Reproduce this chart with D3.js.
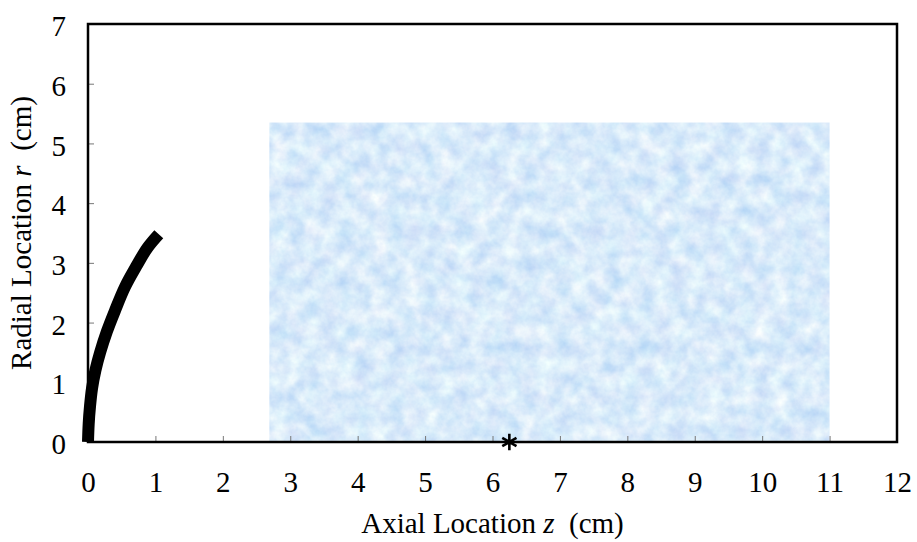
<!DOCTYPE html>
<html>
<head>
<meta charset="utf-8">
<script src="https://cdn.jsdelivr.net/npm/d3@7"></script>
<style>
  body { margin: 0; background: #fff; }
</style>
</head>
<body>
<svg width="917" height="542"></svg>
<script>
// curve of the radial location against axial location
const curveZ = [0, 0.01, 0.03, 0.06, 0.11, 0.18, 0.28, 0.40, 0.55, 0.72, 0.88, 1.05];
const curveR = [0, 0.3, 0.6, 0.9, 1.2, 1.5, 1.85, 2.2, 2.6, 2.95, 3.25, 3.48];

// shaded region (z from, z to, r top)
const regionZ = [2.69, 11.0];
const regionR = [0, 5.35];

// asterisk marker
const markZ = [6.25];
const markR = [0];

const xTicks = [0, 1, 2, 3, 4, 5, 6, 7, 8, 9, 10, 11, 12];
const yTicks = [0, 1, 2, 3, 4, 5, 6, 7];

const serif = "Liberation Serif, Times New Roman, Times, DejaVu Serif, serif";

const svg = d3.select('svg');
const width = +svg.attr('width');
const height = +svg.attr('height');
const margin = {top: 24, right: 20, bottom: 100, left: 88};
const innerWidth = width - margin.left - margin.right;
const innerHeight = height - margin.top - margin.bottom;

const xScale = d3.scaleLinear().domain([0, 12]).range([0, innerWidth]);
const yScale = d3.scaleLinear().domain([0, 7]).range([innerHeight, 0]);

// mottled blue texture
const defs = svg.append('defs');
const filter = defs.append('filter')
    .attr('id', 'mottle')
    .attr('color-interpolation-filters', 'sRGB')
    .attr('x', 0).attr('y', 0).attr('width', 1).attr('height', 1);
filter.append('feTurbulence')
    .attr('type', 'fractalNoise')
    .attr('baseFrequency', 0.06)
    .attr('numOctaves', 4)
    .attr('seed', 7)
    .attr('result', 'noise');
filter.append('feColorMatrix')
    .attr('in', 'noise')
    .attr('type', 'matrix')
    .attr('values', [
        0.30, 0.08, 0, 0, 0.66,
        0.20, 0, 0, 0, 0.82,
        0.04, 0, 0, 0, 0.96,
        0, 0, 0, 0, 1
    ].join(' '))
    .attr('result', 'col');
filter.append('feComposite')
    .attr('in', 'col')
    .attr('in2', 'SourceGraphic')
    .attr('operator', 'in');

const g = svg.append('g')
    .attr('transform', `translate(${margin.left}, ${margin.top})`);

g.append('rect')
    .attr('x', xScale(regionZ[0]))
    .attr('y', yScale(regionR[1]))
    .attr('width', xScale(regionZ[1]) - xScale(regionZ[0]))
    .attr('height', yScale(regionR[0]) - yScale(regionR[1]))
    .attr('fill', '#d5e4f8')
    .attr('filter', 'url(#mottle)');

// axes with inward gray ticks
const xAxisG = g.append('g')
    .attr('transform', `translate(0, ${innerHeight})`)
    .call(d3.axisBottom(xScale).tickValues(xTicks).tickSize(-6).tickPadding(29).tickFormat(d3.format('d')));
xAxisG.attr('font-family', serif).attr('font-size', 29);
xAxisG.select('.domain').remove();
xAxisG.selectAll('line').attr('stroke', '#777');
xAxisG.selectAll('text').attr('dy', '0.71em');

const yAxisG = g.append('g')
    .call(d3.axisLeft(yScale).tickValues(yTicks).tickSize(-6).tickPadding(22).tickFormat(d3.format('d')));
yAxisG.attr('font-family', serif).attr('font-size', 29);
yAxisG.select('.domain').remove();
yAxisG.selectAll('line').attr('stroke', '#777');
yAxisG.selectAll('text').attr('dy', '0.4em');

// frame
g.append('rect')
    .attr('width', innerWidth)
    .attr('height', innerHeight)
    .attr('fill', 'none')
    .attr('stroke', '#000')
    .attr('stroke-width', 2.5);

// thick curve
const pts = curveZ.map((z, i) => [z, curveR[i]]);
const line = d3.line()
    .x(d => xScale(d[0]))
    .y(d => yScale(d[1]))
    .curve(d3.curveCatmullRom);
g.append('path')
    .datum(pts)
    .attr('d', line)
    .attr('fill', 'none')
    .attr('stroke', '#000')
    .attr('stroke-width', 12);

// asterisk
g.selectAll('.mark').data(markZ).enter().append('path')
    .attr('class', 'mark')
    .attr('transform', (d, i) => `translate(${xScale(d)}, ${yScale(markR[i])})`)
    .attr('d', d3.symbol(d3.symbolAsterisk, 190))
    .attr('fill', 'none')
    .attr('stroke', '#000')
    .attr('stroke-width', 2.6);

// axis titles
const xTitle = svg.append('text')
    .attr('x', margin.left + innerWidth / 2)
    .attr('y', 533)
    .attr('text-anchor', 'middle')
    .attr('font-size', 29)
    .attr('font-family', serif);
xTitle.append('tspan').text('Axial Location ');
xTitle.append('tspan').attr('font-style', 'italic').text('z');
xTitle.append('tspan').text('\u00a0\u00a0(cm)');

const yTitle = svg.append('text')
    .attr('transform', `translate(31, ${margin.top + innerHeight / 2}) rotate(-90)`)
    .attr('text-anchor', 'middle')
    .attr('font-size', 29)
    .attr('font-family', serif);
yTitle.append('tspan').text('Radial Location ');
yTitle.append('tspan').attr('font-style', 'italic').text('r');
yTitle.append('tspan').text('\u00a0\u00a0(cm)');
</script>
</body>
</html>
